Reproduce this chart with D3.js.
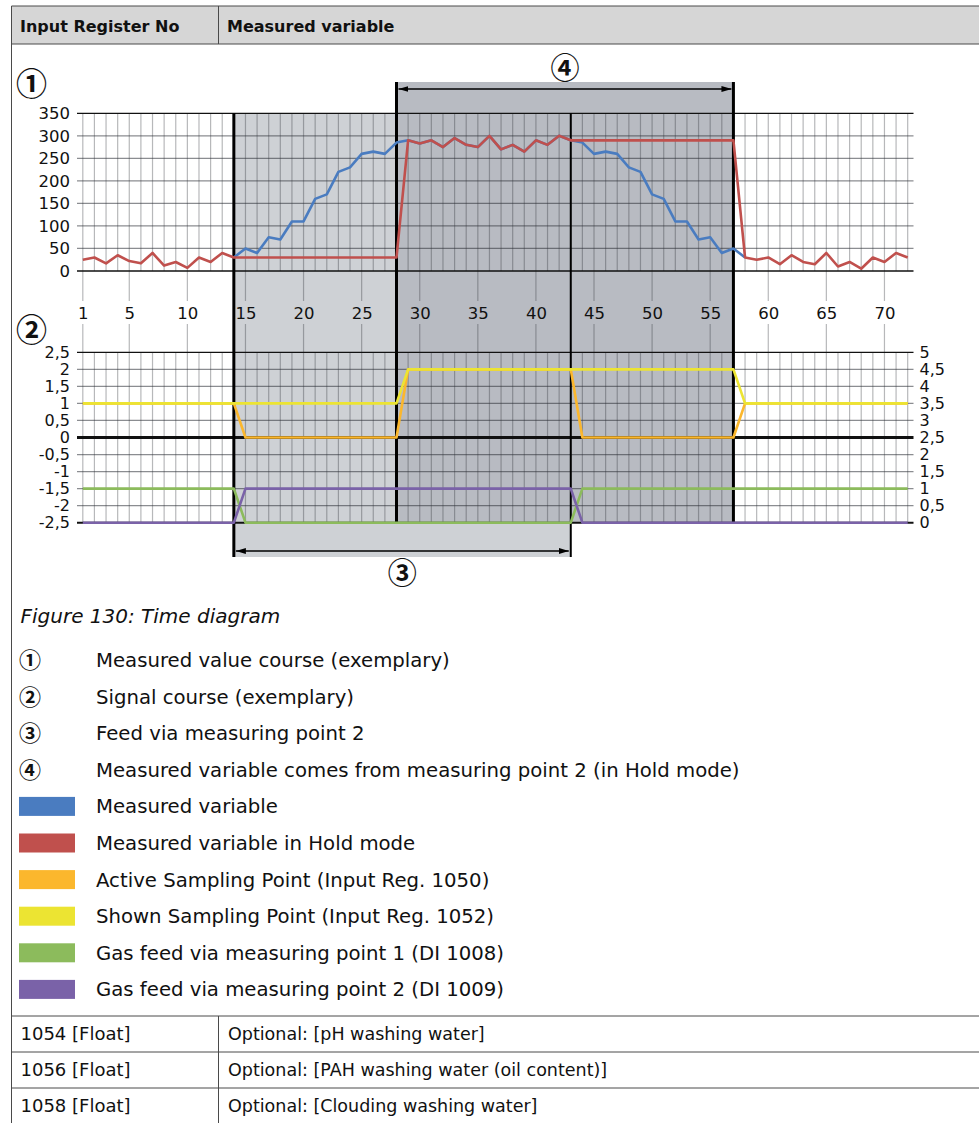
<!DOCTYPE html>
<html>
<head>
<meta charset="utf-8">
<script src="https://cdn.jsdelivr.net/npm/d3@7"></script>
<style>
body { margin: 0; background: #fff; }
svg { display: block; font-family: "DejaVu Sans", sans-serif; }
.circ { font-family: "Noto Sans CJK JP", "DejaVu Sans", sans-serif; font-weight: bold; }
</style>
</head>
<body>
<svg id="chart" width="979" height="1123"></svg>
<script>
// ---- data ----
const points = d3.range(1, 73);
const xTicks = [1, 5, 10, 15, 20, 25, 30, 35, 40, 45, 50, 55, 60, 65, 70];
const topTicks = [0, 50, 100, 150, 200, 250, 300, 350];
const leftTicks = [-2.5, -2, -1.5, -1, -0.5, 0, 0.5, 1, 1.5, 2, 2.5];
const rightTicks = [0, 0.5, 1, 1.5, 2, 2.5, 3, 3.5, 4, 4.5, 5];

// measured variable (blue) and measured variable in hold mode (red)
const measured = [null, null, null, null, null, null, null, null, null, null, null, null, null,
    30, 50, 40, 75, 70, 110, 110, 160, 170, 220, 230, 260, 265, 260, 285,
    290, 283, 290, 275, 295, 280, 275, 300, 270, 280, 265, 290, 280, 300, 290,
    285, 260, 265, 260, 230, 220, 170, 160, 110, 110, 70, 75, 40, 50, 30,
    null, null, null, null, null, null, null, null, null, null, null, null, null, null];
const hold = [25, 30, 17, 35, 22, 17, 40, 12, 20, 7, 30, 20, 40, 30,
    30, 30, 30, 30, 30, 30, 30, 30, 30, 30, 30, 30, 30, 30,
    290, 283, 290, 275, 295, 280, 275, 300, 270, 280, 265, 290, 280, 300, 290,
    290, 290, 290, 290, 290, 290, 290, 290, 290, 290, 290, 290, 290, 290,
    30, 25, 30, 15, 35, 20, 15, 40, 10, 20, 5, 30, 20, 40, 30];

// signals, left axis (sampling points)
const activePoint = [1, 1, 1, 1, 1, 1, 1, 1, 1, 1, 1, 1, 1, 1,
    0, 0, 0, 0, 0, 0, 0, 0, 0, 0, 0, 0, 0, 0,
    2, 2, 2, 2, 2, 2, 2, 2, 2, 2, 2, 2, 2, 2, 2,
    0, 0, 0, 0, 0, 0, 0, 0, 0, 0, 0, 0, 0, 0,
    1, 1, 1, 1, 1, 1, 1, 1, 1, 1, 1, 1, 1, 1, 1];
const shownPoint = [1, 1, 1, 1, 1, 1, 1, 1, 1, 1, 1, 1, 1, 1,
    1, 1, 1, 1, 1, 1, 1, 1, 1, 1, 1, 1, 1, 1,
    2, 2, 2, 2, 2, 2, 2, 2, 2, 2, 2, 2, 2, 2, 2,
    2, 2, 2, 2, 2, 2, 2, 2, 2, 2, 2, 2, 2, 2,
    1, 1, 1, 1, 1, 1, 1, 1, 1, 1, 1, 1, 1, 1, 1];
// signals, right axis (digital inputs)
const di1008 = [1, 1, 1, 1, 1, 1, 1, 1, 1, 1, 1, 1, 1, 1,
    0, 0, 0, 0, 0, 0, 0, 0, 0, 0, 0, 0, 0, 0,
    0, 0, 0, 0, 0, 0, 0, 0, 0, 0, 0, 0, 0, 0, 0,
    1, 1, 1, 1, 1, 1, 1, 1, 1, 1, 1, 1, 1, 1,
    1, 1, 1, 1, 1, 1, 1, 1, 1, 1, 1, 1, 1, 1, 1];
const di1009 = [0, 0, 0, 0, 0, 0, 0, 0, 0, 0, 0, 0, 0, 0,
    1, 1, 1, 1, 1, 1, 1, 1, 1, 1, 1, 1, 1, 1,
    1, 1, 1, 1, 1, 1, 1, 1, 1, 1, 1, 1, 1, 1, 1,
    0, 0, 0, 0, 0, 0, 0, 0, 0, 0, 0, 0, 0, 0,
    0, 0, 0, 0, 0, 0, 0, 0, 0, 0, 0, 0, 0, 0, 0];

// phases (point index)
const feedPhase = [14, 43];
const holdPhase = [28, 57];

const noteKeys = ["①", "②", "③", "④"];
const noteLabels = ["Measured value course (exemplary)", "Signal course (exemplary)",
    "Feed via measuring point 2", "Measured variable comes from measuring point 2 (in Hold mode)"];
const seriesNames = ["Measured variable", "Measured variable in Hold mode",
    "Active Sampling Point (Input Reg. 1050)", "Shown Sampling Point (Input Reg. 1052)",
    "Gas feed via measuring point 1 (DI 1008)", "Gas feed via measuring point 2 (DI 1009)"];
const seriesColors = ["#4a7cc0", "#c0504d", "#fbb72d", "#ece432", "#8cbb5c", "#7a62a8"];

const headerCols = ["Input Register No", "Measured variable"];
const rowRegisters = ["1054 [Float]", "1056 [Float]", "1058 [Float]"];
const rowVariables = ["Optional: [pH washing water]", "Optional: [PAH washing water (oil content)]",
    "Optional: [Clouding washing water]"];

// ---- scales ----
const svg = d3.select("svg#chart");
const x = d3.scaleLinear().domain([0.5, 72.5]).range([77, 913.5]);
const yTop = d3.scaleLinear().domain([0, 350]).range([271, 113.3]);
const yBot = d3.scaleLinear().domain([-2.5, 2.5]).range([522.7, 352.3]);
const yRight = d3.scaleLinear().domain([0, 5]).range([522.7, 352.3]);
const comma = d3.formatLocale({decimal: ",", thousands: ".", grouping: [3], currency: ["", ""], minus: "-"}).format("");

const lineCol = "#2b2f36";

// ---- table frame ----
const frame = svg.append("g").attr("class", "frame");
frame.append("rect").attr("x", 11.5).attr("y", 6).attr("width", 970).attr("height", 38).attr("fill", "#d6d6d6");
frame.selectAll("line.h")
    .data([6, 44, 1016, 1052, 1088])
    .enter().append("line")
    .attr("x1", 11.5).attr("x2", 979).attr("y1", d => d).attr("y2", d => d)
    .attr("stroke", "#4a4a4a").attr("stroke-width", 1);
frame.append("line").attr("x1", 11.5).attr("x2", 11.5).attr("y1", 6).attr("y2", 1123)
    .attr("stroke", "#4a4a4a");
frame.selectAll("line.div")
    .data([[6, 44], [1016, 1123]])
    .enter().append("line")
    .attr("x1", 218.5).attr("x2", 218.5).attr("y1", d => d[0]).attr("y2", d => d[1])
    .attr("stroke", "#4a4a4a");
frame.selectAll("text.head")
    .data(headerCols)
    .enter().append("text")
    .attr("x", (d, i) => i ? 227 : 20)
    .attr("y", 26).attr("dy", "0.35em")
    .style("font-size", "16px").style("font-weight", "bold").attr("fill", "#111")
    .text(d => d);
frame.selectAll("text.reg")
    .data(rowRegisters)
    .enter().append("text")
    .attr("x", 20.5).attr("y", (d, i) => 1034 + i * 36).attr("dy", "0.35em")
    .style("font-size", "18px").attr("fill", "#111")
    .text(d => d);
frame.selectAll("text.var")
    .data(rowVariables)
    .enter().append("text")
    .attr("x", 228).attr("y", (d, i) => 1034 + i * 36).attr("dy", "0.35em")
    .style("font-size", "17.5px").attr("fill", "#111")
    .text(d => d);

// ---- shaded phases ----
svg.append("rect")
    .attr("x", x(feedPhase[0])).attr("width", x(feedPhase[1]) - x(feedPhase[0]))
    .attr("y", yTop(350)).attr("height", 557 - yTop(350))
    .attr("fill", "#ced1d5");
svg.append("rect")
    .attr("x", x(holdPhase[0])).attr("width", x(holdPhase[1]) - x(holdPhase[0]))
    .attr("y", 82).attr("height", yBot(-2.5) - 82)
    .attr("fill", "#b8bbc2");

// ---- grids ----
const grid = svg.append("g").attr("class", "grid");
[[yTop(350), yTop(0)], [yBot(2.5), yBot(-2.5)]].forEach(([y1, y2]) => {
    grid.append("g").selectAll("line")
        .data(points)
        .enter().append("line")
        .attr("x1", d => x(d)).attr("x2", d => x(d))
        .attr("y1", y1).attr("y2", y2)
        .attr("stroke", lineCol).attr("stroke-opacity", 0.34).attr("stroke-width", 1.2);
});
// tick lines between the two charts, broken around labels
[[yTop(0), 301], [324, yBot(2.5)]].forEach(([y1, y2]) => {
    grid.append("g").selectAll("line")
        .data(xTicks)
        .enter().append("line")
        .attr("x1", d => x(d)).attr("x2", d => x(d))
        .attr("y1", y1).attr("y2", y2)
        .attr("stroke", lineCol).attr("stroke-opacity", 0.34).attr("stroke-width", 1.2);
});
grid.append("g").selectAll("line")
    .data(topTicks)
    .enter().append("line")
    .attr("x1", x.range()[0]).attr("x2", x.range()[1])
    .attr("y1", d => yTop(d)).attr("y2", d => yTop(d))
    .attr("stroke", d => (d === 0 || d === 350) ? "#111" : lineCol)
    .attr("stroke-opacity", d => (d === 0 || d === 350) ? 1 : 0.55)
    .attr("stroke-width", d => d === 0 ? 1.6 : 1.2);
grid.append("g").selectAll("line")
    .data(leftTicks)
    .enter().append("line")
    .attr("x1", x.range()[0]).attr("x2", x.range()[1])
    .attr("y1", d => yBot(d)).attr("y2", d => yBot(d))
    .attr("stroke", d => (Math.abs(d) === 2.5 || d === 0) ? "#111" : lineCol)
    .attr("stroke-opacity", d => (Math.abs(d) === 2.5 || d === 0) ? 1 : 0.55)
    .attr("stroke-width", d => d === 0 ? 3 : (d === -2.5 ? 2 : 1.2));

// ---- axes ----
function styleAxis(g, size) {
    g.select(".domain").remove();
    g.selectAll("text").style("font-size", size).attr("fill", "#111");
    g.attr("font-family", null);
}
svg.append("g")
    .attr("transform", `translate(${x.range()[0]},0)`)
    .call(d3.axisLeft(yTop).tickValues(topTicks).tickSize(0).tickPadding(7))
    .call(g => styleAxis(g, "16.5px"));
svg.append("g")
    .attr("transform", `translate(${x.range()[0]},0)`)
    .call(d3.axisLeft(yBot).tickValues(leftTicks).tickSize(0).tickPadding(7).tickFormat(comma))
    .call(g => styleAxis(g, "16px"));
svg.append("g")
    .attr("transform", `translate(${x.range()[1]},0)`)
    .call(d3.axisRight(yRight).tickValues(rightTicks).tickSize(0).tickPadding(6).tickFormat(comma))
    .call(g => styleAxis(g, "16px"));
svg.append("g")
    .attr("transform", "translate(0,313)")
    .call(d3.axisBottom(x).tickValues(xTicks).tickSize(0).tickPadding(0))
    .call(g => {
        styleAxis(g, "16.5px");
        g.selectAll("text").attr("y", 0).attr("dy", "0.35em");
    });

// ---- phase boundaries ----
const bounds = [
    {p: feedPhase[0], y1: yTop(350), y2: 557, w: 3},
    {p: holdPhase[0], y1: 82, y2: yBot(-2.5), w: 3},
    {p: feedPhase[1], y1: yTop(350), y2: 557, w: 2},
    {p: holdPhase[1], y1: 82, y2: yBot(-2.5), w: 3}
];
svg.append("g").selectAll("line")
    .data(bounds)
    .enter().append("line")
    .attr("x1", d => x(d.p)).attr("x2", d => x(d.p))
    .attr("y1", d => d.y1).attr("y2", d => d.y2)
    .attr("stroke", "#000").attr("stroke-width", d => d.w);

// ---- series ----
const lineTop = d3.line().defined(d => d[1] !== null).x(d => x(d[0])).y(d => yTop(d[1]));
const lineLeft = d3.line().x(d => x(d[0])).y(d => yBot(d[1]));
const lineRight = d3.line().x(d => x(d[0])).y(d => yRight(d[1]));
const zip = arr => points.map((p, i) => [p, arr[i]]);

const series = [
    {v: di1008, gen: lineRight, c: seriesColors[4]},
    {v: di1009, gen: lineRight, c: seriesColors[5]},
    {v: activePoint, gen: lineLeft, c: seriesColors[2]},
    {v: shownPoint, gen: lineLeft, c: seriesColors[3]},
    {v: measured, gen: lineTop, c: seriesColors[0]},
    {v: hold, gen: lineTop, c: seriesColors[1]}
];
svg.append("g").selectAll("path")
    .data(series)
    .enter().append("path")
    .attr("d", d => d.gen(zip(d.v)))
    .attr("fill", "none")
    .attr("stroke", d => d.c)
    .attr("stroke-width", 2.6)
    .attr("stroke-linejoin", "round");

// ---- arrows ----
svg.append("defs").append("marker")
    .attr("id", "arrow")
    .attr("viewBox", "0 0 10 6")
    .attr("refX", 10).attr("refY", 3)
    .attr("markerWidth", 10).attr("markerHeight", 6)
    .attr("markerUnits", "userSpaceOnUse")
    .attr("orient", "auto-start-reverse")
    .append("path").attr("d", "M0,0L10,3L0,6Z").attr("fill", "#000");

const arrows = [
    {a: holdPhase[0], b: holdPhase[1], y: 89, key: "④", ly: 69},
    {a: feedPhase[0], b: feedPhase[1], y: 551, key: "③", ly: 574}
];
const arr = svg.append("g").selectAll("g").data(arrows).enter().append("g");
arr.append("line")
    .attr("x1", d => x(d.a) + 2).attr("x2", d => x(d.b) - 2)
    .attr("y1", d => d.y).attr("y2", d => d.y)
    .attr("stroke", "#000").attr("stroke-width", 1.3)
    .attr("marker-start", "url(#arrow)").attr("marker-end", "url(#arrow)");
arr.append("text")
    .attr("class", "circ")
    .attr("x", d => (x(d.a) + x(d.b)) / 2).attr("y", d => d.ly).attr("dy", "0.36em")
    .attr("text-anchor", "middle").style("font-size", "29px").attr("fill", "#111")
    .text(d => d.key);

// chart keys
svg.selectAll("text.key")
    .data([{k: "①", y: 84}, {k: "②", y: 330}])
    .enter().append("text")
    .attr("class", "circ")
    .attr("x", 16).attr("y", d => d.y).attr("dy", "0.36em")
    .style("font-size", "31px").attr("fill", "#111")
    .text(d => d.k);

// ---- caption and legend ----
svg.append("text")
    .attr("x", 20.5).attr("y", 616).attr("dy", "0.35em")
    .style("font-size", "20px").style("font-style", "italic").attr("fill", "#111")
    .text("Figure 130: Time diagram");

const legendY = i => 660 + i * 36.6;
const notes = svg.append("g").selectAll("g")
    .data(noteKeys).enter().append("g")
    .attr("transform", (d, i) => `translate(0,${legendY(i)})`);
notes.append("text").attr("class", "circ").attr("x", 19).attr("dy", "0.36em")
    .style("font-size", "22px").attr("fill", "#111").text(d => d);
notes.append("text").attr("x", 96).attr("dy", "0.35em")
    .style("font-size", "19.7px").attr("fill", "#111").text((d, i) => noteLabels[i]);

const legend = svg.append("g").selectAll("g")
    .data(seriesNames).enter().append("g")
    .attr("transform", (d, i) => `translate(0,${legendY(i + 4)})`);
legend.append("rect").attr("x", 19).attr("y", -9.5).attr("width", 56).attr("height", 19)
    .attr("fill", (d, i) => seriesColors[i]);
legend.append("text").attr("x", 96).attr("dy", "0.35em")
    .style("font-size", "19.7px").attr("fill", "#111").text(d => d);
</script>
</body>
</html>
